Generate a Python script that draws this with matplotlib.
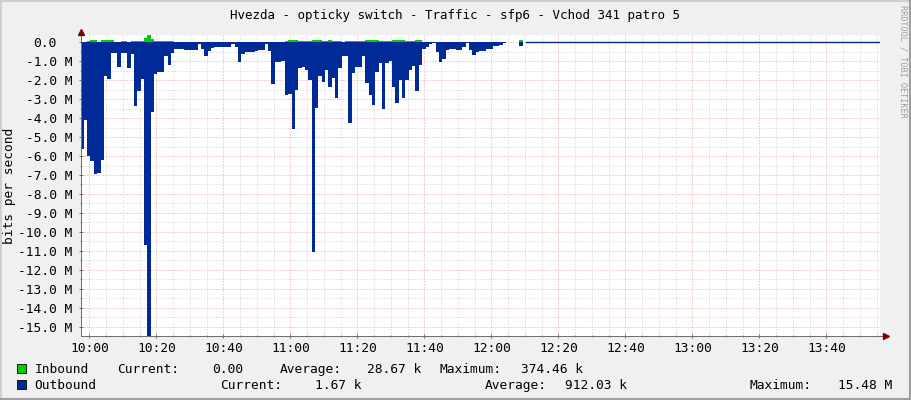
import numpy as np
import matplotlib
matplotlib.use("Agg")
import matplotlib.pyplot as plt
from matplotlib.patches import Rectangle
from matplotlib.lines import Line2D
from matplotlib.transforms import ScaledTranslation

plt.rcParams["font.family"] = ["DejaVu Sans Mono"]
plt.rcParams["lines.scale_dashes"] = False

title = "Hvezda - opticky switch - Traffic - sfp6 - Vchod 341 patro 5"
y_label = "bits per second"
credit = "RRDTOOL / TOBI OETIKER"

# one sample per minute, minutes counted from 10:00, values in Mbit/s
sample_start = -2.65
sample_step = 1.0

outbound = [
    -5.65, -4.1, -6.0, -6.25, -6.95, -6.9, -6.2, -1.8, -1.95, -0.55,
    -0.55, -1.32, -0.55, -0.55, -1.35, -0.6, -3.36, -2.57, -1.95, -10.7,
    -15.48, -3.7, -1.7, -1.6, -1.6, -0.72, -1.2, -0.55, -0.37, -0.37,
    -0.37, -0.4, -0.4, -0.4, -0.4, -0.12, -0.37, -0.75, -0.45, -0.3,
    -0.28, -0.28, -0.28, -0.28, -0.28, -0.12, -0.28, -1.07, -0.6, -0.5,
    -0.5, -0.5, -0.45, -0.4, -0.4, -0.12, -0.45, -2.22, -1.07, -1.07,
    -1.02, -2.78, -2.75, -4.56, -2.5, -1.34, -1.3, -1.45, -2.0, -11.05,
    -3.49, -1.76, -2.1, -1.45, -2.34, -1.9, -2.92, -1.34, -0.75, -0.75,
    -4.24, -1.62, -1.32, -1.32, -0.75, -2.14, -2.78, -3.33, -1.6, -1.1,
    -3.54, -1.12, -1.0, -2.34, -3.22, -1.97, -2.92, -1.97, -1.45, -1.27,
    -2.57, -1.2, -0.37, -0.28, -0.1, -0.05, -0.53, -1.07, -0.9, -0.44,
    -0.37, -0.37, -0.4, -0.4, -0.28, -0.07, -0.44, -0.7, -0.5, -0.46,
    -0.46, -0.37, -0.37, -0.23, -0.23, -0.16, -0.05, -0.003, -0.002, -0.002,
    -0.002, -0.2, -0.002,
]

inbound = [
    0.02, 0.02, 0.06, 0.09, 0.09, 0.03, 0.11, 0.12, 0.12, 0.1,
    0.03, 0.03, 0.05, 0.05, 0.02, 0.04, 0.05, 0.05, 0.08, 0.21,
    0.37446, 0.17, 0.07, 0.06, 0.05, 0.04, 0.05, 0.05, 0.03, 0.003,
    0.003, 0.003, 0.003, 0.003, 0.003, 0.003, 0.003, 0.003, 0.003, 0.003,
    0.003, 0.003, 0.003, 0.003, 0.003, 0.003, 0.003, 0.003, 0.003, 0.003,
    0.003, 0.003, 0.003, 0.003, 0.003, 0.003, 0.003, 0.003, 0.003, 0.003,
    0.02, 0.05, 0.12, 0.12, 0.1, 0.05, 0.05, 0.05, 0.05, 0.12,
    0.09, 0.09, 0.07, 0.07, 0.09, 0.07, 0.07, 0.07, 0.01, 0.05,
    0.05, 0.05, 0.05, 0.04, 0.04, 0.1, 0.1, 0.1, 0.1, 0.07,
    0.07, 0.04, 0.04, 0.1, 0.1, 0.1, 0.1, 0.05, 0.05, 0.05,
    0.1, 0.1, 0.004, 0.004, 0.004, 0.004, 0.004, 0.004, 0.004, 0.004,
    0.004, 0.004, 0.004, 0.004, 0.004, 0.004, 0.004, 0.004, 0.004, 0.004,
    0.004, 0.004, 0.004, 0.004, 0.004, 0.004, 0.004, 0.004, 0.004, 0.004,
    0.004, 0.09, 0.0,
]

# outbound keeps trickling (about 1.67 k) until the end of the window
tail_minutes = [130.35, 236.5]
tail_outbound = [-0.00167, -0.00167]

x_ticks = [0, 20, 40, 60, 80, 100, 120, 140, 160, 180, 200, 220]
x_tick_labels = ["10:00", "10:20", "10:40", "11:00", "11:20", "11:40",
                 "12:00", "12:20", "12:40", "13:00", "13:20", "13:40"]
x_minor = [0, 5, 10, 15, 20, 25, 30, 35, 40, 45, 50, 55, 60, 65, 70, 75, 80,
           85, 90, 95, 100, 105, 110, 115, 120, 125, 130, 135, 140, 145, 150,
           155, 160, 165, 170, 175, 180, 185, 190, 195, 200, 205, 210, 215,
           220, 225, 230, 235]
y_ticks = [0, -1, -2, -3, -4, -5, -6, -7, -8, -9, -10, -11, -12, -13, -14, -15]
y_tick_labels = ["0.0", "-1.0 M", "-2.0 M", "-3.0 M", "-4.0 M", "-5.0 M",
                 "-6.0 M", "-7.0 M", "-8.0 M", "-9.0 M", "-10.0 M", "-11.0 M",
                 "-12.0 M", "-13.0 M", "-14.0 M", "-15.0 M"]
y_minor = [-0.5, -1.5, -2.5, -3.5, -4.5, -5.5, -6.5, -7.5, -8.5, -9.5,
           -10.5, -11.5, -12.5, -13.5, -14.5]

legend_names = ["Inbound", "Outbound"]
legend_current = ["0.00", "1.67 k"]
legend_average = ["28.67 k", "912.03 k"]
legend_maximum = ["374.46 k", "15.48 M"]

green = "#00CF00"
blue = "#002A97"
W, H = 911, 400

fig = plt.figure(figsize=(W / 100, H / 100), dpi=100, facecolor="#F0F0F0")
ax = fig.add_axes([81 / W, 64 / H, 799 / W, 301 / H])
ax.set_facecolor("white")

n = len(outbound)
edges = sample_start + sample_step * np.arange(n + 1)
out_ext = np.append(outbound, outbound[-1])
in_ext = np.append(inbound, inbound[-1])

ax.fill_between(edges, 0, in_ext, step="post", color=green, lw=0, zorder=2)
ax.fill_between(edges, 0, out_ext, step="post", color=blue, lw=0, zorder=2)
ax.plot(tail_minutes, tail_outbound, color=blue, lw=1.0, zorder=3)

ax.set_xlim(-2.48, 236.0)
ax.set_ylim(-15.48, 0.37446)

ax.set_xticks(x_ticks)
ax.set_xticklabels(x_tick_labels)
ax.set_xticks(x_minor, minor=True)
ax.set_yticks(y_ticks)
ax.set_yticklabels(y_tick_labels)
ax.set_yticks(y_minor, minor=True)

dots = (0, (0.72, 1.44))
ax.grid(which="minor", color="#CFCFCF", lw=0.72, linestyle=dots, zorder=1)
ax.grid(which="major", color="#F0A0A0", lw=0.72, linestyle=dots, zorder=1)
ax.set_axisbelow(True)

ax.tick_params(which="major", direction="inout", length=3, width=0.72,
               color="#707070", labelsize=9.3, pad=3)
ax.tick_params(which="minor", direction="inout", length=1.5, width=0.72,
               color="#909090")
ax.tick_params(axis="y", which="major", pad=4.8)

# the unit-less zero label sits two characters further left, like rrdtool
zero_label = ax.yaxis.get_major_ticks()[0].label1
zero_label.set_transform(zero_label.get_transform()
                         + ScaledTranslation(-0.16, 0, fig.dpi_scale_trans))

for side in ["top", "right"]:
    ax.spines[side].set_visible(False)
for side in ["left", "bottom"]:
    ax.spines[side].set_color("#707070")
    ax.spines[side].set_linewidth(0.72)

# axis arrows
ax.plot([1.0, 1.006], [0, 0], transform=ax.transAxes, color="#707070",
        lw=0.72, clip_on=False)
ax.plot([1.007], [0], transform=ax.transAxes, marker=">", ms=4,
        color="#7F0000", clip_on=False, zorder=5)
ax.plot([0], [1.01], transform=ax.transAxes, marker="^", ms=4,
        color="#7F0000", clip_on=False, zorder=5)

fig.text(0.5, 1 - 15 / H, title, ha="center", va="center", fontsize=9)
fig.text(10 / W, 1 - 186 / H, y_label, rotation=90, ha="center",
         va="center", fontsize=9.3)
fig.text(903 / W, 1 - 5 / H, credit, rotation=270, ha="center", va="top",
         fontsize=6.1, color="#A0A0A0")

# legend rows
row_base = [373.3, 389.3]
row_cols = [
    [(116.7, "Current:"), (212.3, None), (279.3, "Average:"), (366.7, None),
     (440.0, "Maximum:"), (520.7, None)],
    [(220.0, "Current:"), (315.0, None), (485.0, "Average:"), (565.0, None),
     (750.0, "Maximum:"), (838.3, None)],
]
colors = [green, blue]
for i, name in enumerate(legend_names):
    yb = row_base[i]
    fig.patches.append(Rectangle((17.3 / W, 1 - (yb - 0.3) / H), 9 / W, 9 / H,
                                 transform=fig.transFigure, facecolor=colors[i],
                                 edgecolor="black", lw=0.6))
    fig.text(34.3 / W, 1 - yb / H, name, ha="left", va="baseline", fontsize=9.3)
    values = [legend_current[i], legend_average[i], legend_maximum[i]]
    k = 0
    for x, label in row_cols[i]:
        if label is None:
            label = values[k]
            k += 1
        fig.text(x / W, 1 - yb / H, label, ha="left", va="baseline",
                 fontsize=9.3)

# 3d border of the image
fig.add_artist(Line2D([0, 1], [1 - 0.5 / H, 1 - 0.5 / H], color="#CFCFCF",
                      lw=1.44, transform=fig.transFigure))
fig.add_artist(Line2D([0.5 / W, 0.5 / W], [0, 1], color="#CFCFCF",
                      lw=1.44, transform=fig.transFigure))
fig.add_artist(Line2D([0, 1], [1.2 / H, 1.2 / H], color="#9E9E9E",
                      lw=2.2, transform=fig.transFigure))
fig.add_artist(Line2D([1 - 1.2 / W, 1 - 1.2 / W], [0, 1], color="#9E9E9E",
                      lw=2.2, transform=fig.transFigure))

fig.savefig("out.png", dpi=100, facecolor=fig.get_facecolor())
